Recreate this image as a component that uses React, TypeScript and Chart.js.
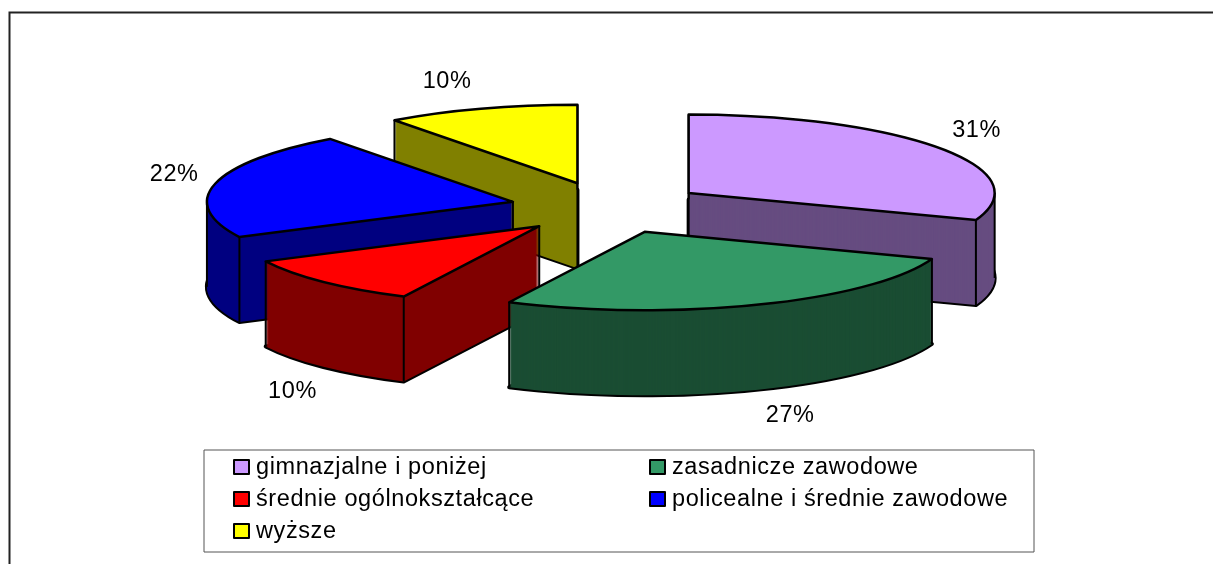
import React, { useEffect, useRef } from "react";
import { Chart, registerables } from "chart.js";

Chart.register(...registerables);

const categories = [
  "gimnazjalne i poniżej",
  "zasadnicze zawodowe",
  "średnie ogólnokształcące",
  "policealne i średnie zawodowe",
  "wyższe",
];
const shares = [30.6, 26.7, 10.3, 22.2, 10.2];
const topColors = ["#CC99FF", "#339966", "#FF0000", "#0000FF", "#FFFF00"];
const wallColors = ["#664C80", "#1A4D33", "#800000", "#000080", "#808000"];
const labelNudgeX = [37, 32, -31, -41, -34];
const labelNudgeY = [-18, 26, 25, -9.5, -27];

const RADIUS = 306;
const TILT = 78.5 / 306;
const DEPTH = 85;
const EXPLODE_X = 98;
const EXPLODE_Y = 101;
const FONT = '23.5px "Liberation Sans", Arial, sans-serif';
const TRACKING = "0.6px";

const inSlice = (a: number, s: number, e: number) => {
  for (const t of [a, a + 2 * Math.PI, a - 2 * Math.PI]) if (t >= s && t <= e) return true;
  return false;
};

const pie3d = {
  id: "pie3d",
  beforeDraw(chart: any) {
    const { ctx } = chart;
    ctx.save();
    ctx.fillStyle = "#fff";
    ctx.fillRect(0, 0, chart.width, chart.height);
    ctx.strokeStyle = "#222";
    ctx.lineWidth = 2;
    ctx.strokeRect(9.5, 12.5, chart.width + 40, chart.height + 40);
    ctx.restore();
  },
  afterDatasetUpdate(chart: any) {
    const area = chart.chartArea;
    const cx = (area.left + area.right) / 2;
    const cy = (area.top + area.bottom) / 2;
    chart.getDatasetMeta(0).data.forEach((el: any) => {
      const mid = (el.startAngle + el.endAngle) / 2;
      el.x = cx + Math.cos(mid) * EXPLODE_X;
      el.y = cy + Math.sin(mid) * EXPLODE_Y;
    });
  },
  beforeDatasetDraw(chart: any) {
    const { ctx } = chart;
    const els: any[] = chart.getDatasetMeta(0).data;
    const chartPivot = (el: any) => {
      const area = chart.chartArea;
      const cy = (area.top + area.bottom) / 2;
      const mid = (el.startAngle + el.endAngle) / 2;
      return cy + Math.sin(mid) * EXPLODE_Y * TILT;
    };
    // every slice is squashed about its own apex, so the apex stays on el.x / el.y
    const squash = (el: any, dy: number) => {
      ctx.translate(el.x, chartPivot(el) + dy);
      ctx.scale(1, TILT);
      ctx.translate(-el.x, -el.y);
    };
    const outline = (el: any, dy: number, width: number) => {
      ctx.save();
      squash(el, dy);
      ctx.beginPath();
      ctx.moveTo(el.x, el.y);
      ctx.arc(el.x, el.y, el.outerRadius, el.startAngle, el.endAngle);
      ctx.closePath();
      ctx.restore();
      ctx.lineWidth = width;
      ctx.lineJoin = "round";
      ctx.strokeStyle = "#000";
      ctx.stroke();
    };
    const order = els.map((_, i) => i).sort((a, b) => chartPivot(els[a]) - chartPivot(els[b]));
    for (const i of order) {
      const el = els[i];
      const py = chartPivot(el);
      const base = el.options;
      outline(el, DEPTH, 4);
      el.options = { ...base, backgroundColor: wallColors[i], borderWidth: 0 };
      for (let d = DEPTH; d >= 0; d--) {
        ctx.save();
        squash(el, d);
        el.draw(ctx);
        ctx.restore();
      }
      const corner = (x: number, y: number) => {
        ctx.beginPath();
        ctx.moveTo(x, y);
        ctx.lineTo(x, y + DEPTH);
        ctx.lineWidth = 2;
        ctx.strokeStyle = "#000";
        ctx.stroke();
      };
      const rim = (a: number) => [
        el.x + Math.cos(a) * RADIUS,
        py + Math.sin(a) * RADIUS * TILT,
      ];
      // the apex edge is only visible when the slice does not face the viewer
      if (!inSlice(Math.PI / 2, el.startAngle, el.endAngle)) corner(el.x, py);
      for (const a of [el.startAngle, el.endAngle]) corner(rim(a)[0], rim(a)[1]);
      for (const a of [0, Math.PI]) if (inSlice(a, el.startAngle, el.endAngle)) corner(rim(a)[0], rim(a)[1]);
      el.options = { ...base, borderWidth: 0 };
      ctx.save();
      squash(el, 0);
      el.draw(ctx);
      ctx.restore();
      el.options = base;
      outline(el, 0, 2.5);
    }
    // percentage labels
    const total = shares.reduce((a, b) => a + b, 0);
    ctx.save();
    ctx.font = FONT;
    (ctx as any).letterSpacing = TRACKING;
    ctx.fillStyle = "#000";
    ctx.textAlign = "center";
    ctx.textBaseline = "middle";
    els.forEach((el, i) => {
      const mid = (el.startAngle + el.endAngle) / 2;
      const py = chartPivot(el);
      const x = el.x + Math.cos(mid) * RADIUS + labelNudgeX[i];
      const front = Math.sin(mid) > 0 && Math.abs(Math.cos(mid)) < 0.9 ? DEPTH : 0;
      const y = py + Math.sin(mid) * RADIUS * TILT + front + labelNudgeY[i];
      ctx.fillText(`${Math.round((shares[i] / total) * 100)}%`, x, y);
    });
    ctx.restore();
    return false;
  },
  afterDraw(chart: any) {
    const { ctx } = chart;
    ctx.save();
    ctx.strokeStyle = "#555";
    ctx.lineWidth = 1;
    ctx.strokeRect(204, 450, 830, 102);
    ctx.font = FONT;
    (ctx as any).letterSpacing = TRACKING;
    ctx.textBaseline = "middle";
    categories.forEach((name, i) => {
      const col = i % 2;
      const row = Math.floor(i / 2);
      const sx = col === 0 ? 234 : 650;
      const sy = 460 + row * 32;
      ctx.fillStyle = topColors[i];
      ctx.fillRect(sx, sy, 15, 14);
      ctx.strokeStyle = "#000";
      ctx.lineWidth = 2;
      ctx.strokeRect(sx, sy, 15, 14);
      ctx.fillStyle = "#000";
      ctx.fillText(name, sx + 22, sy + 8);
    });
    ctx.restore();
  },
};

export default function App() {
  const ref = useRef<HTMLCanvasElement>(null);
  useEffect(() => {
    const chart = new Chart(ref.current!, {
      type: "pie",
      data: {
        labels: categories,
        datasets: [{ data: shares, backgroundColor: topColors, borderWidth: 0, radius: RADIUS } as any],
      },
      options: {
        animation: false,
        responsive: false,
        layout: { padding: { left: 3.6, bottom: 148.4 } },
        plugins: { legend: { display: false }, tooltip: { enabled: false } },
      },
      plugins: [pie3d as any],
    });
    return () => chart.destroy();
  }, []);
  return (
    <canvas
      ref={ref}
      width={1213}
      height={564}
      style={{ position: "fixed", left: 0, top: 0, display: "block" }}
    />
  );
}
